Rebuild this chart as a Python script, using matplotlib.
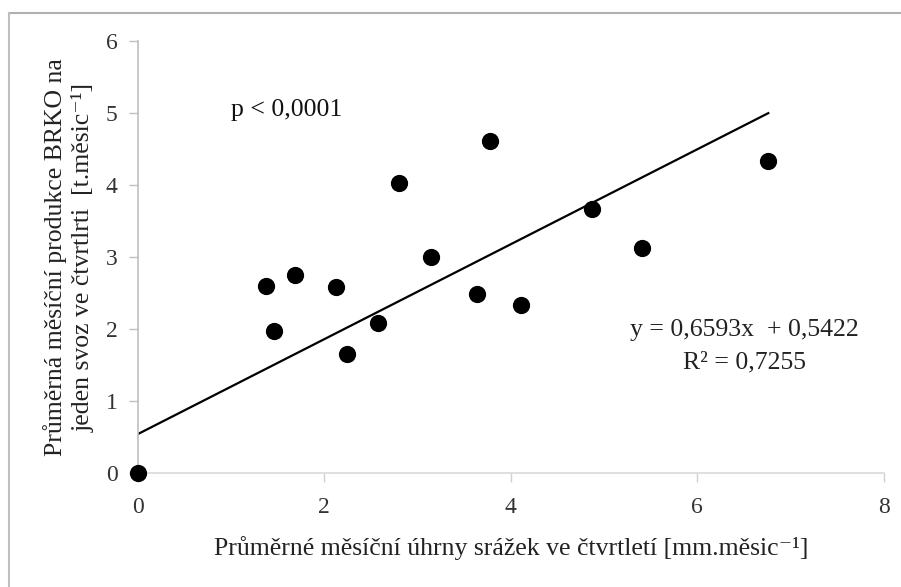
import matplotlib.pyplot as plt
from matplotlib.lines import Line2D

plt.rcParams['font.family'] = ['Liberation Serif', 'DejaVu Serif']

# Data
precip = [0.0, 1.37, 1.46, 1.68, 2.13, 2.24, 2.57, 2.80, 3.14, 3.64, 3.78, 4.11, 4.87, 5.41, 6.76]
production = [0.0, 2.60, 1.97, 2.75, 2.58, 1.65, 2.08, 4.03, 3.00, 2.49, 4.61, 2.33, 3.67, 3.12, 4.33]

slope = 0.6593
intercept = 0.5422
r2_text = "R\u00b2 = 0,7255"
eq_text = "y = 0,6593x  + 0,5422"
p_text = "p < 0,0001"

x_ticks = [0, 2, 4, 6, 8]
y_ticks = [0, 1, 2, 3, 4, 5, 6]

fig = plt.figure(figsize=(9.01, 5.87), dpi=100)
ax = fig.add_axes([0.153, 0.194, 0.828, 0.736])

ax.scatter(precip, production, s=130, color='black', zorder=3, clip_on=False)

# trend line across the data range
x_line = [0, max(precip)]
y_line = [slope * v + intercept for v in x_line]
ax.plot(x_line, y_line, color='black', linewidth=1.6, zorder=2)

ax.set_xlim(0, 8)
ax.set_ylim(0, 6)
ax.set_xticks(x_ticks)
ax.set_yticks(y_ticks)
ax.tick_params(axis='both', labelsize=17, colors='#bfbfbf', labelcolor='#333333', length=6.5, width=1)
ax.tick_params(axis='x', pad=11, colors='#d0d0d0', labelcolor='#333333')
ax.tick_params(axis='y', pad=8)

for side in ['top', 'right']:
    ax.spines[side].set_visible(False)
ax.spines['left'].set_color('#bfbfbf')
ax.spines['bottom'].set_color('#d9d9d9')
ax.spines['left'].set_linewidth(1.2)
ax.spines['bottom'].set_linewidth(1.2)

ax.set_xlabel("Průměrné měsíční úhrny srážek ve čtvrtletí [mm.měsic\u207b\u00b9]",
              fontsize=18.5, color='#222222', labelpad=13)
ax.set_ylabel("Průměrná měsíční produkce BRKO na\njeden svoz ve čtvrtlrti  [t.měsic\u207b\u00b9]",
              fontsize=18.5, color='#222222', labelpad=8, linespacing=1.25)

ax.text(1.0, 5.04, p_text, fontsize=18.5, color='#111111', va='center')
ax.text(6.5, 1.99, eq_text, fontsize=18.5, color='#222222', ha='center', va='center')
ax.text(6.5, 1.54, r2_text, fontsize=18.5, color='#222222', ha='center', va='center')

# partial figure border (top and left)
fig.add_artist(Line2D([9 / 901, 1], [1 - 13 / 587, 1 - 13 / 587], transform=fig.transFigure,
                      color='#b0b0b0', linewidth=1.5))
fig.add_artist(Line2D([9 / 901, 9 / 901], [0, 1 - 13 / 587], transform=fig.transFigure,
                      color='#c0c0c0', linewidth=1.5))

fig.savefig("out.png", dpi=100)
